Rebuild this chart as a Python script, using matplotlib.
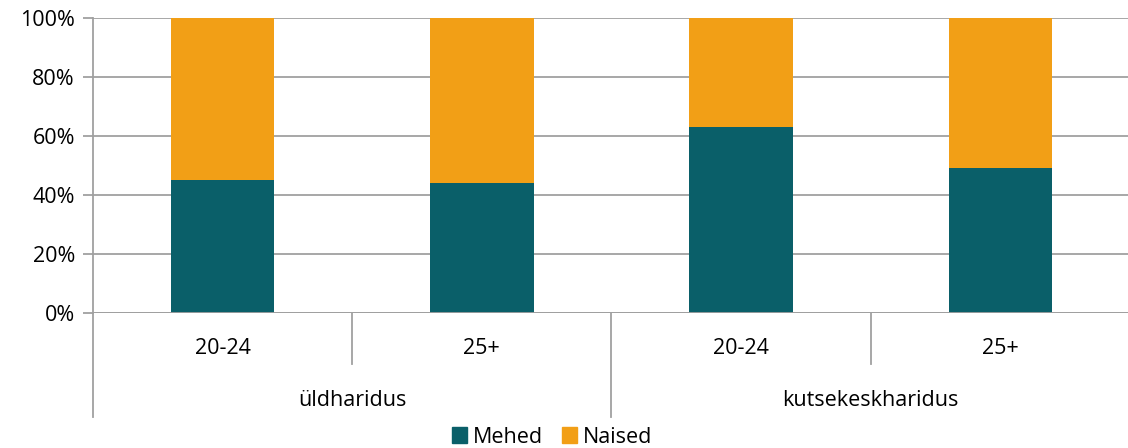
import matplotlib
matplotlib.use('Agg')
from matplotlib import pyplot as plt
from matplotlib.patches import Patch

# data
groups = ['üldharidus', 'kutsekeskharidus']
ages = ['20-24', '25+', '20-24', '25+']
mehed = [45, 44, 63, 49]
naised = [100 - v for v in mehed]
series_names = ['Mehed', 'Naised']

c_mehed = '#0a5f69'
c_naised = '#f29f16'
grey = '#a0a0a0'

plt.rcParams['font.family'] = ['Open Sans', 'DejaVu Sans']
plt.rcParams['font.size'] = 15.5

W, H = 1128, 448
fig = plt.figure(figsize=(W / 100, H / 100), dpi=100)
x0, x1, ytop, ybot = 93, 1128, 18, 313
ax = fig.add_axes([x0 / W, (H - ybot) / H, (x1 - x0) / W, (ybot - ytop) / H])

x = range(len(mehed))
ax.bar(x, mehed, width=0.4, color=c_mehed, zorder=3)
ax.bar(x, naised, width=0.4, bottom=mehed, color=c_naised, zorder=3)

ax.set_ylim(0, 100)
ax.set_xlim(-0.5, 3.5 - 2 / 260)
ax.set_yticks(range(0, 101, 20))
ax.set_yticklabels([f'{v}%' for v in range(0, 101, 20)])
ax.yaxis.grid(True, color=grey, linewidth=1.3, zorder=0)
ax.tick_params(axis='y', length=7, color=grey, width=1.3, pad=6)
ax.set_xticks([])
for s in ['top', 'right', 'bottom']:
    ax.spines[s].set_visible(False)
ax.spines['left'].set_color(grey)
ax.spines['left'].set_linewidth(1.3)
ax.axhline(0, color=grey, linewidth=1.3, zorder=4)

# multi-level category axis
tr = ax.get_xaxis_transform()
y_short = (ybot - 364) / (ybot - ytop)
y_long = (ybot - 417) / (ybot - ytop)
for xs in [-0.5, 1.5]:
    ax.plot([xs, xs], [0, y_long], transform=tr, color=grey, lw=1.3, clip_on=False)
for xs in [0.5, 2.5]:
    ax.plot([xs, xs], [0, y_short], transform=tr, color=grey, lw=1.3, clip_on=False)
y_lab1 = (ybot - 348) / (ybot - ytop)
y_lab2 = (ybot - 400) / (ybot - ytop)
for i, a in enumerate(ages):
    ax.text(i, y_lab1, a, transform=tr, ha='center', va='center')
for j, g in enumerate(groups):
    ax.text(2 * j + 0.5, y_lab2, g, transform=tr, ha='center', va='center')

handles = [Patch(color=c_mehed), Patch(color=c_naised)]
fig.legend(handles, series_names, loc='center', bbox_to_anchor=(552 / W, 11 / H),
           ncol=2, frameon=False, handlelength=0.7, handleheight=0.7,
           handletextpad=0.25, columnspacing=0.9, borderpad=0)

fig.savefig('out.png', dpi=100)
